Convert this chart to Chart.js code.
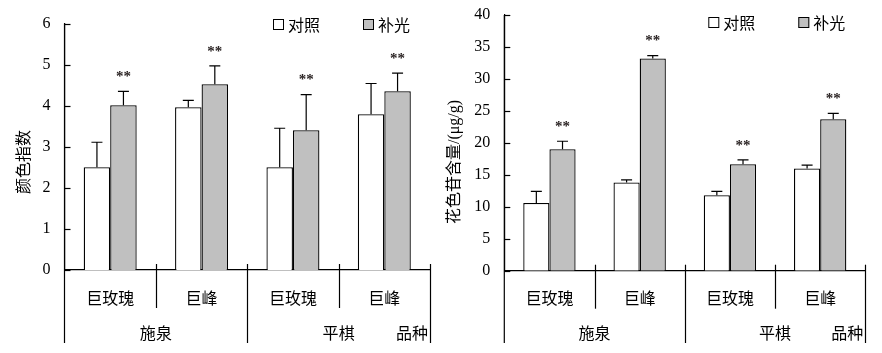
<!DOCTYPE html>
<html>
<head>
<meta charset="utf-8">
<script src="https://cdn.jsdelivr.net/npm/chart.js@4.4.0/dist/chart.umd.min.js"></script>
<style>
  html, body { margin: 0; padding: 0; background: #fff; }
  #wrap { position: relative; width: 882px; height: 353px; overflow: hidden; }
  canvas { position: absolute; top: 0; }
  #c1 { left: 0; }
  #c2 { left: 441px; }
</style>
</head>
<body>
<div id="wrap">
  <canvas id="c1" width="441" height="353"></canvas>
  <canvas id="c2" width="441" height="353"></canvas>
</div>
<script>
// ---------- data ----------
const categories = ['巨玫瑰', '巨峰', '巨玫瑰', '巨峰'];
const groups = ['施泉', '平棋'];
const axisGroupTitle = '品种';
const seriesNames = ['对照', '补光'];
const significance = ['**', '**', '**', '**'];

// colour index (颜色指数)
const colorIndexTitle = '颜色指数';
const colorIndexCtrl = [2.50, 3.96, 2.50, 3.79];
const colorIndexCtrlErr = [0.61, 0.17, 0.95, 0.75];
const colorIndexLight = [4.01, 4.52, 3.40, 4.35];
const colorIndexLightErr = [0.34, 0.45, 0.87, 0.44];
const colorIndexTicks = [0, 1, 2, 3, 4, 5, 6];

// anthocyanin content (花色苷含量)
const anthoTitle = '花色苷含量/(μg/g)';
const anthoCtrl = [10.6, 13.8, 11.8, 16.0];
const anthoCtrlErr = [1.8, 0.4, 0.6, 0.5];
const anthoLight = [19.0, 33.2, 16.65, 23.7];
const anthoLightErr = [1.25, 0.45, 0.7, 0.9];
const anthoTicks = [0, 5, 10, 15, 20, 25, 30, 35, 40];

// ---------- drawing ----------
const FONT = '"Liberation Serif", "Noto Sans CJK SC", serif';
const CJK = '"Noto Sans CJK SC", sans-serif';

const decorPlugin = {
  id: 'decor',
  afterDatasetsDraw(chart, args, opts) {
    const ctx = chart.ctx;
    const ys = chart.scales.y;
    ctx.save();
    ctx.strokeStyle = '#000';
    ctx.fillStyle = '#000';
    ctx.lineWidth = 1.2;

    // error bars
    chart.data.datasets.forEach((ds, di) => {
      const meta = chart.getDatasetMeta(di);
      meta.data.forEach((bar, i) => {
        const v = ds.data[i];
        const e = ds.errors[i];
        const yTop = ys.getPixelForValue(v + e);
        const x = bar.x;
        ctx.beginPath();
        ctx.moveTo(x, bar.y);
        ctx.lineTo(x, yTop);
        ctx.moveTo(x - 5.5, yTop);
        ctx.lineTo(x + 5.5, yTop);
        ctx.stroke();
        if (ds.sig) {
          ctx.font = 'bold 15px ' + FONT;
          ctx.fillStyle = '#2b2424';
          ctx.textAlign = 'center';
          ctx.textBaseline = 'middle';
          ctx.fillText(ds.sig[i], x, yTop - 14);
          ctx.fillStyle = '#000';
        }
      });
    });
    ctx.restore();
  },
  afterDraw(chart, args, opts) {
    const ctx = chart.ctx;
    const ca = chart.chartArea;
    const xs = chart.scales.x;
    const ys = chart.scales.y;
    ctx.save();
    ctx.strokeStyle = '#000';
    ctx.lineWidth = 1.2;
    const bottom = ca.bottom;
    const lowEnd = 343;

    // inside y ticks
    ys.ticks.forEach(t => {
      const y = Math.round(ys.getPixelForValue(t.value)) + 0.5;
      ctx.beginPath();
      ctx.moveTo(ca.left, y);
      ctx.lineTo(ca.left + 6, y);
      ctx.stroke();
    });

    // left axis extension
    ctx.beginPath();
    ctx.moveTo(ca.left, ca.top);
    ctx.lineTo(ca.left, lowEnd);
    ctx.stroke();

    // category separators
    const n = categories.length;
    for (let i = 1; i <= n; i++) {
      let x;
      if (i === n) x = ca.right;
      else x = (xs.getPixelForValue(i - 1) + xs.getPixelForValue(i)) / 2;
      x = Math.round(x) + 0.5;
      const isGroupEnd = (i % 2 === 0);
      ctx.beginPath();
      ctx.moveTo(x, bottom - 6);
      ctx.lineTo(x, isGroupEnd ? lowEnd : bottom + 38);
      ctx.stroke();
    }

    // group labels
    ctx.fillStyle = '#000';
    ctx.font = '16px ' + CJK;
    ctx.textBaseline = 'middle';
    ctx.textAlign = 'center';
    groups.forEach((g, gi) => {
      const x = (xs.getPixelForValue(gi * 2) + xs.getPixelForValue(gi * 2 + 1)) / 2;
      ctx.fillText(g, x, 333);
    });
    ctx.textAlign = 'right';
    ctx.fillText(axisGroupTitle, ca.right - 2, 333);

    // y title
    ctx.save();
    ctx.translate(opts.titleX, 162);
    ctx.rotate(-Math.PI / 2);
    ctx.textAlign = 'center';
    ctx.font = '16px ' + FONT;
    ctx.fillText(opts.title, 0, 0);
    ctx.restore();

    // legend
    const boxes = [ca.right - 157, ca.right - 67];
    chart.data.datasets.forEach((ds, di) => {
      const bx = boxes[di];
      const by = opts.legendY;
      ctx.fillStyle = ds.backgroundColor;
      ctx.fillRect(bx, by - 5, 11, 11);
      ctx.lineWidth = 1;
      ctx.strokeStyle = '#000';
      ctx.strokeRect(bx + 0.5, by - 5 + 0.5, 10, 10);
      ctx.fillStyle = '#000';
      ctx.font = '16px ' + CJK;
      ctx.textAlign = 'left';
      ctx.textBaseline = 'middle';
      ctx.fillText(ds.label, bx + 15, by + 1);
    });
    ctx.restore();
  }
};

function makeChart(id, ctrl, ctrlErr, light, lightErr, ticks, cfg) {
  const maxV = ticks[ticks.length - 1];
  const step = ticks[1] - ticks[0];
  return new Chart(document.getElementById(id), {
    type: 'bar',
    data: {
      labels: categories,
      datasets: [
        { label: seriesNames[0], data: ctrl, errors: ctrlErr, backgroundColor: '#ffffff',
          borderColor: '#000', borderWidth: 1.3, borderSkipped: 'bottom' },
        { label: seriesNames[1], data: light, errors: lightErr, sig: significance, backgroundColor: '#c0c0c0',
          borderColor: '#000', borderWidth: 1.3, borderSkipped: 'bottom' }
      ]
    },
    options: {
      responsive: false,
      animation: false,
      devicePixelRatio: 1,
      layout: { padding: { left: 0, right: cfg.padRight, top: cfg.padTop, bottom: 0 } },
      datasets: { bar: { categoryPercentage: 0.58, barPercentage: 1.0 } },
      plugins: {
        legend: { display: false },
        tooltip: { enabled: false },
        decor: { title: cfg.title, titleX: cfg.titleX, legendY: cfg.legendY }
      },
      scales: {
        x: {
          grid: { display: false, drawTicks: false },
          border: { display: true, color: '#000', width: 1.2 },
          ticks: { color: '#000', font: { family: CJK, size: 16 }, padding: 18, maxRotation: 0 },
          afterFit: s => { s.height = cfg.xHeight; }
        },
        y: {
          min: 0, max: maxV,
          grid: { display: false, drawTicks: false },
          border: { display: true, color: '#000', width: 1.2 },
          ticks: { stepSize: step, color: '#000', font: { family: '"Liberation Serif", serif', size: 16, lineHeight: 0.05 }, padding: 14 },
          afterFit: s => { s.width = cfg.yWidth; }
        }
      }
    },
    plugins: [decorPlugin]
  });
}

makeChart('c1', colorIndexCtrl, colorIndexCtrlErr, colorIndexLight, colorIndexLightErr, colorIndexTicks,
  { padRight: 11, padTop: 23.5, xHeight: 83, yWidth: 64.5, title: colorIndexTitle, titleX: 25, legendY: 24 });
makeChart('c2', anthoCtrl, anthoCtrlErr, anthoLight, anthoLightErr, anthoTicks,
  { padRight: 16.7, padTop: 15, xHeight: 82.3, yWidth: 63.3, title: anthoTitle, titleX: 14, legendY: 22 });
</script>
</body>
</html>
